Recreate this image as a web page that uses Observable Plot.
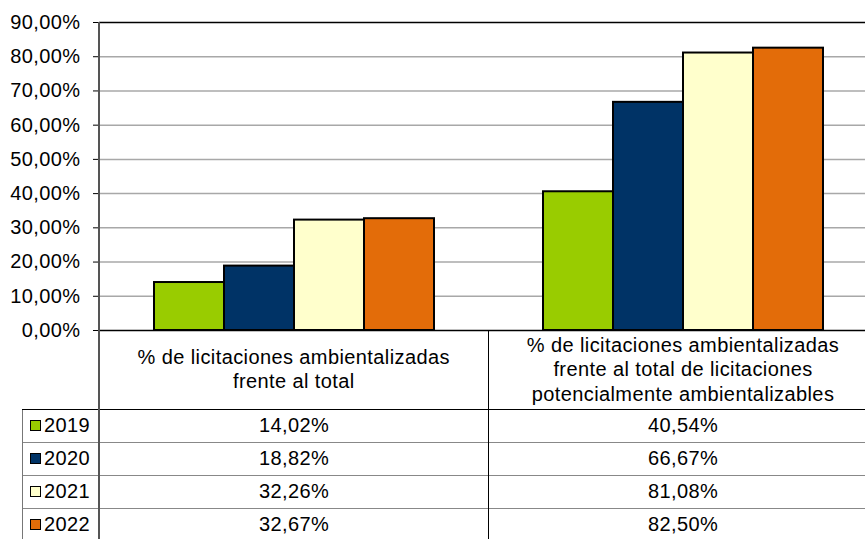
<!DOCTYPE html>
<html>
<head>
<meta charset="utf-8">
<script src="https://cdn.jsdelivr.net/npm/d3@7"></script>
<script src="https://cdn.jsdelivr.net/npm/@observablehq/plot@0.6"></script>
<style>
  html, body { margin: 0; padding: 0; background: #fff; overflow: hidden; }
  body { font-family: "Liberation Sans", Arial, sans-serif; }
  #wrap { position: relative; width: 877px; height: 539px; }
  #chart { position: absolute; left: 0; top: 0; }
  #chart svg text { letter-spacing: 0.4px; }
  #yline { position: absolute; left: 98px; top: 22px; width: 2px; height: 517px; background: #555; }
  #tbl { position: absolute; left: 22px; top: 330px; border-collapse: collapse; table-layout: fixed; width: 855px;
         font-size: 20px; letter-spacing: 0.4px; color: #000; }
  #tbl td { padding: 0; text-align: center; vertical-align: middle; box-sizing: border-box; }
  #tbl tr.head td { height: 79px; line-height: 24.5px; }
  #tbl tr.head td.blank { border: none; }
  #tbl tr.head td.cat { border-right: 1.5px solid #000; }
  #tbl tr.row td { height: 33px; border-top: 1.5px solid #888; border-right: 1.5px solid #000; }
  #tbl tr.first td { border-top: 1.5px solid #000; }
  #tbl tr.row td.leg { border-left: 1.5px solid #777; text-align: left; padding-left: 7px; }
  .sw { display: inline-block; width: 9px; height: 9px; border: 1.5px solid #000; margin-right: 3px; vertical-align: 1px; }
</style>
</head>
<body>
<div id="wrap">
  <div id="chart"></div>
  <table id="tbl"></table>
  <div id="yline"></div>
</div>
<script>
const categories = [
  "% de licitaciones ambientalizadas frente al total",
  "% de licitaciones ambientalizadas frente al total de licitaciones potencialmente ambientalizables"
];
const categoryLines = [
  ["% de licitaciones ambientalizadas", "frente al total"],
  ["% de licitaciones ambientalizadas", "frente al total de licitaciones", "potencialmente ambientalizables"]
];
const years = ["2019", "2020", "2021", "2022"];
const values2019 = [14.02, 40.54];
const values2020 = [18.82, 66.67];
const values2021 = [32.26, 81.08];
const values2022 = [32.67, 82.50];
const yearColors = ["#99CC00", "#003366", "#FFFFCC", "#E36C09"];
const yTicks = [0, 10, 20, 30, 40, 50, 60, 70, 80, 90];

const series = [values2019, values2020, values2021, values2022];
const data = years.flatMap((yr, i) => categories.map((c, j) => ({group: c, year: yr, value: series[i][j]})));
const fmt = v => v.toFixed(2).replace(".", ",") + "%";

const chart = Plot.plot({
  width: 877,
  height: 331,
  marginLeft: 99,
  marginRight: 0,
  marginTop: 22,
  marginBottom: 1,
  style: {fontSize: "20px", fontFamily: "'Liberation Sans', Arial, sans-serif", color: "#000", background: "transparent", overflow: "visible"},
  fx: {domain: categories, padding: 0, axis: null},
  x: {domain: years, paddingInner: 0, paddingOuter: 0.74, axis: null},
  y: {domain: [0, 90], ticks: yTicks, tickFormat: fmt, tickSize: 6, tickPadding: 13, label: null},
  color: {domain: years, range: yearColors},
  marks: [
    Plot.ruleY(yTicks.filter(t => t > 0 && t < 90), {stroke: "#a8a8a8", strokeWidth: 1.5}),
    Plot.ruleY([90], {stroke: "#000", strokeWidth: 1.5}),
    Plot.barY(data, {fx: "group", x: "year", y: "value", fill: "year", stroke: "#000", strokeWidth: 2}),
    Plot.ruleY([0], {stroke: "#000", strokeWidth: 1.5})
  ]
});
document.getElementById("chart").appendChild(chart);

// data table below the chart
const tbl = document.getElementById("tbl");
let html = '<colgroup><col style="width:77px"><col style="width:389px"><col style="width:389px"></colgroup>';
html += '<tr class="head"><td class="blank"></td>' +
  categoryLines.map(lines => `<td class="cat">${lines.join("<br>")}</td>`).join("") + '</tr>';
years.forEach((yr, i) => {
  html += `<tr class="row${i === 0 ? " first" : ""}"><td class="leg"><span class="sw" style="background:${yearColors[i]}"></span>${yr}</td>` +
    series[i].map(v => `<td>${fmt(v)}</td>`).join("") + '</tr>';
});
tbl.innerHTML = html;
</script>
</body>
</html>
